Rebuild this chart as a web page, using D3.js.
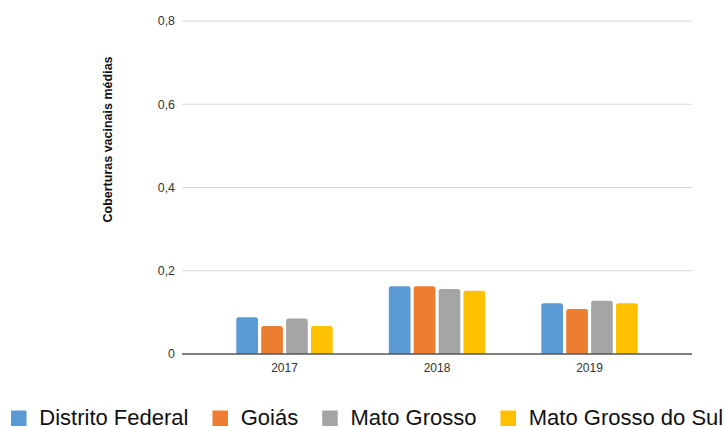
<!DOCTYPE html>
<html>
<head>
<meta charset="utf-8">
<script src="https://cdn.jsdelivr.net/npm/d3@7"></script>
<style>
  html, body { margin: 0; padding: 0; background: #fff; }
  svg { display: block; font-family: "Liberation Sans", Arial, Helvetica, sans-serif; }
</style>
</head>
<body>
<svg id="chart" width="725" height="427"></svg>
<script>
const years = ["2017", "2018", "2019"];
const seriesNames = ["Distrito Federal", "Goiás", "Mato Grosso", "Mato Grosso do Sul"];
const distritoFederal = [0.088, 0.163, 0.122];
const goias = [0.067, 0.163, 0.108];
const matoGrosso = [0.085, 0.156, 0.128];
const matoGrossoDoSul = [0.067, 0.152, 0.122];
const yTicks = [0, 0.2, 0.4, 0.6, 0.8];
const yTickLabels = ["0", "0,2", "0,4", "0,6", "0,8"];
const colors = ["#5b9bd5", "#ed7d31", "#a5a5a5", "#ffc000"];
const yTitle = "Coberturas vacinais médias";

const seriesValues = [distritoFederal, goias, matoGrosso, matoGrossoDoSul];

(function () {
const svg = d3.select("#chart");
const plotLeft = 182, plotRight = 692, plotTop = 21, plotBottom = 354;

const y = d3.scaleLinear().domain([0, 0.8]).range([plotBottom, plotTop]);
const x0 = d3.scaleBand().domain(years).range([plotLeft, plotRight])
  .paddingInner(0.368).paddingOuter(0.356);
const x1 = d3.scaleBand().domain(seriesNames).range([0, x0.bandwidth()])
  .paddingInner(0.13).paddingOuter(0);

// gridlines
svg.append("g").selectAll("line")
  .data(yTicks.filter(d => d > 0))
  .join("line")
  .attr("x1", plotLeft).attr("x2", plotRight)
  .attr("y1", d => y(d)).attr("y2", d => y(d))
  .attr("stroke", "#d9d9d9").attr("stroke-width", 1.2);

// y tick labels
svg.append("g").selectAll("text")
  .data(yTicks)
  .join("text")
  .attr("x", 175).attr("y", d => y(d))
  .attr("dy", "0.36em")
  .attr("text-anchor", "end")
  .attr("font-size", 12.4)
  .attr("fill", "#333")
  .text((d, i) => yTickLabels[i]);

// y title
svg.append("text")
  .attr("transform", "translate(112,139.5) rotate(-90)")
  .attr("text-anchor", "middle")
  .attr("font-size", 12.5)
  .attr("font-weight", "bold")
  .attr("fill", "#111")
  .text(yTitle);

// bars
function topRounded(x, yTop, w, h, r) {
  r = Math.min(r, h, w / 2);
  return `M${x},${yTop + h}V${yTop + r}Q${x},${yTop} ${x + r},${yTop}H${x + w - r}Q${x + w},${yTop} ${x + w},${yTop + r}V${yTop + h}Z`;
}
const barData = [];
years.forEach((yr, i) => {
  seriesNames.forEach((s, j) => {
    barData.push({ yr, s, v: seriesValues[j][i], c: colors[j] });
  });
});
svg.append("g").selectAll("path")
  .data(barData)
  .join("path")
  .attr("d", d => {
    const bx = x0(d.yr) + x1(d.s);
    const yt = y(d.v);
    return topRounded(bx, yt, x1.bandwidth(), plotBottom - yt, 2.5);
  })
  .attr("fill", d => d.c);

// zero axis line
svg.append("line")
  .attr("x1", plotLeft).attr("x2", plotRight)
  .attr("y1", y(0)).attr("y2", y(0))
  .attr("stroke", "#555").attr("stroke-width", 1.3);

// x labels
svg.append("g").selectAll("text")
  .data(years)
  .join("text")
  .attr("x", d => x0(d) + x0.bandwidth() / 2)
  .attr("y", 372)
  .attr("text-anchor", "middle")
  .attr("font-size", 12)
  .attr("fill", "#333")
  .text(d => d);

// legend
const lg = svg.append("g");
let lx = 11;
seriesNames.forEach((s, j) => {
  lg.append("rect")
    .attr("x", lx).attr("y", 410.5)
    .attr("width", 15.5).attr("height", 15.5)
    .attr("fill", colors[j]);
  const t = lg.append("text")
    .attr("x", lx + 28.3).attr("y", 425)
    .attr("font-size", 22)
    .attr("fill", "#111")
    .text(s);
  const w = t.node().getComputedTextLength();
  lx = lx + 28.3 + w + 24;
});
})();
</script>
</body>
</html>
